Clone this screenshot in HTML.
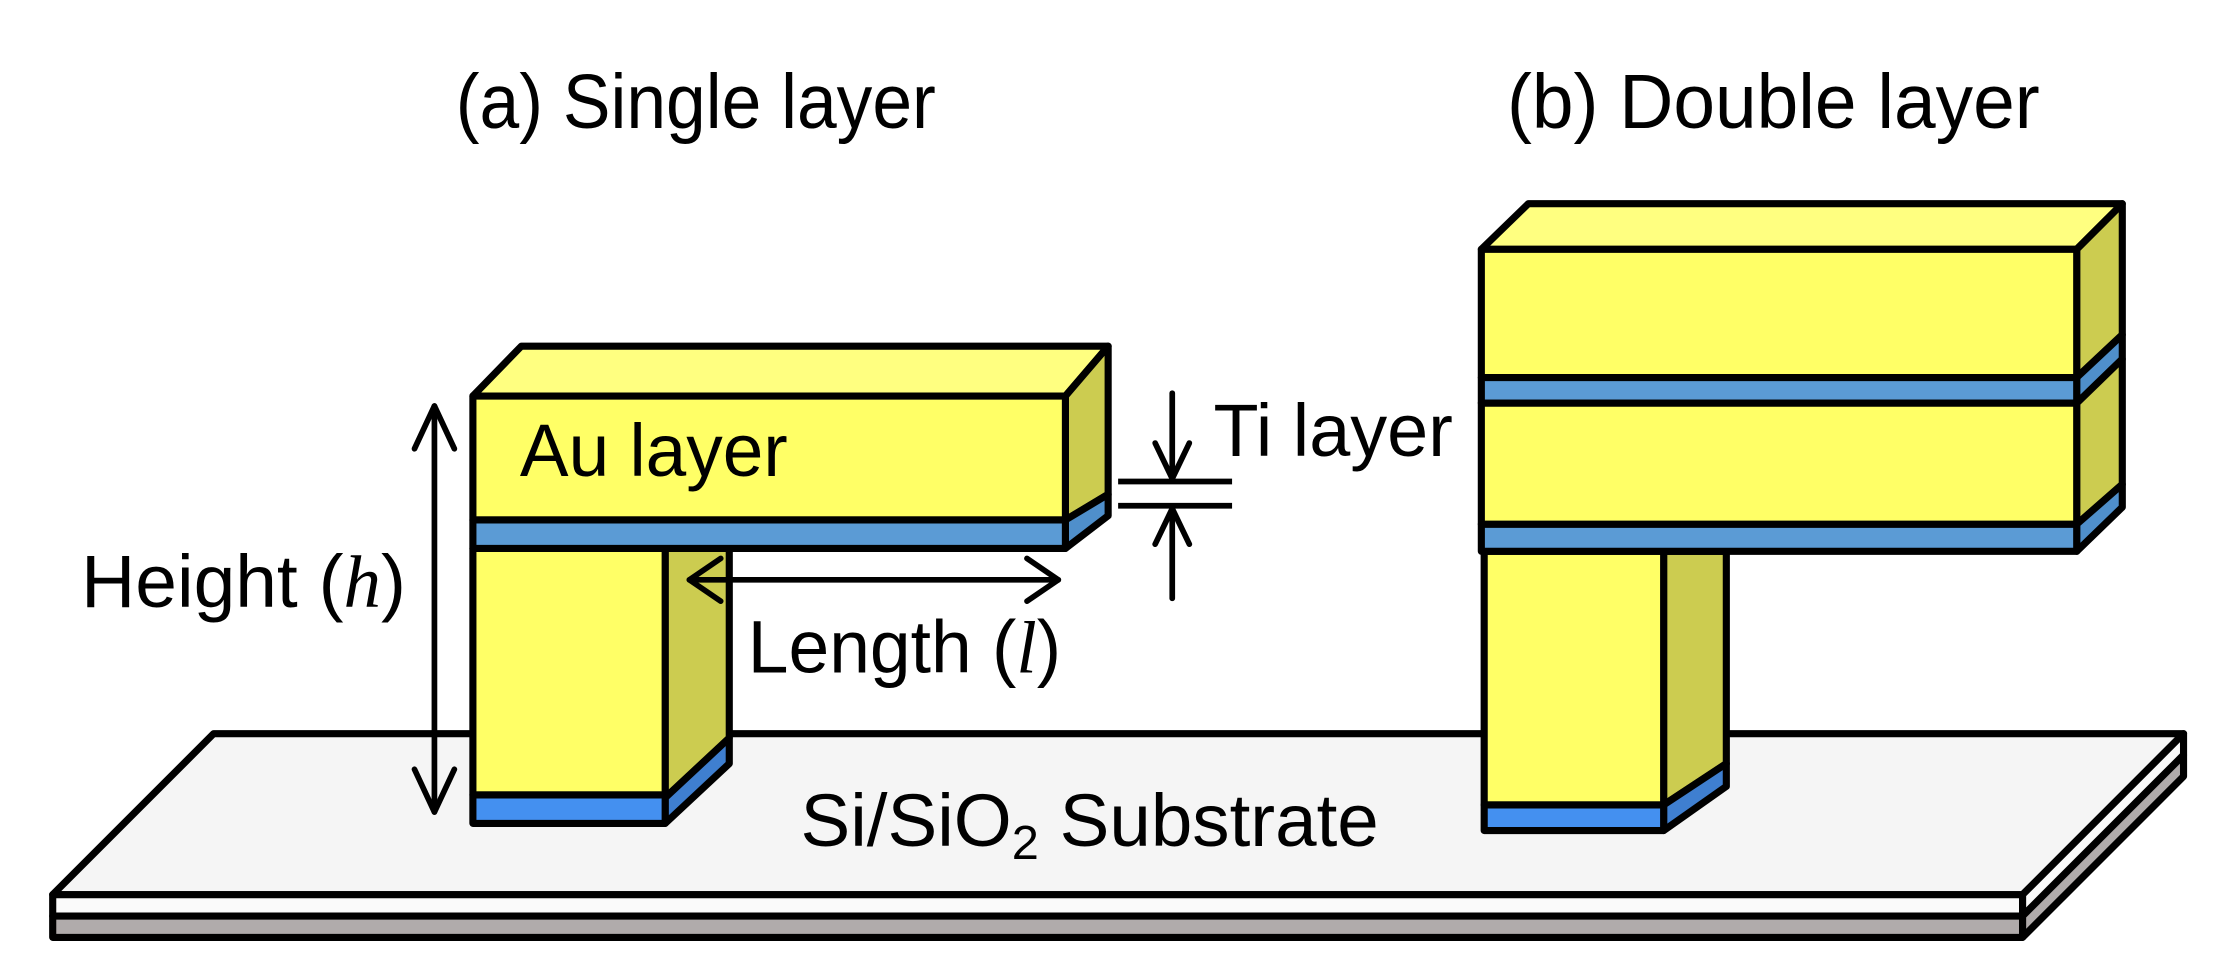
<!DOCTYPE html>
<html><head><meta charset="utf-8"><style>html,body{margin:0;padding:0;background:#fff}svg{display:block}</style></head>
<body>
<svg width="2222" height="973" viewBox="0 0 1560 683" preserveAspectRatio="none" xmlns="http://www.w3.org/2000/svg" font-family="Liberation Sans, sans-serif">
<g stroke="#000" stroke-width="5" stroke-linejoin="round">
<polygon points="150,515 1533,515 1420,628 37,628" fill="#F5F5F5"/>
<rect x="37" y="628" width="1383" height="15" fill="#FAFAFA"/>
<rect x="37" y="643" width="1383" height="15" fill="#B0ABAB"/>
<polygon points="1420,628 1533,515 1533,530 1420,643" fill="#FAFAFA"/>
<polygon points="1420,643 1533,530 1533,545 1420,658" fill="#B0ABAB"/>

<polygon points="467,385 512,385 512,518 467,560" fill="#CCCC50"/>
<polygon points="467,560 512,518 512,536 467,578" fill="#3F7FD0"/>
<rect x="332" y="385" width="135" height="173" fill="#FFFF66"/>
<rect x="332" y="558" width="135" height="20" fill="#4490F0"/>
<polygon points="332,278 366,243 778,243 748,278" fill="#FFFF80"/>
<polygon points="748,278 778,243 778,347 748,365" fill="#CCCC50"/>
<polygon points="748,365 778,347 778,362 748,385" fill="#4F8FCB"/>
<rect x="332" y="278" width="416" height="87" fill="#FFFF66"/>
<rect x="332" y="365" width="416" height="20" fill="#5B9BD5"/>

<polygon points="1168,387 1212,387 1212,536 1168,565" fill="#CCCC50"/>
<polygon points="1168,565 1212,536 1212,552 1168,583" fill="#3F7FD0"/>
<rect x="1042" y="387" width="126" height="178" fill="#FFFF66"/>
<rect x="1042" y="565" width="126" height="18" fill="#4490F0"/>
<polygon points="1040,175 1073,143 1490,143 1458,175" fill="#FFFF80"/>
<polygon points="1458,175 1490,143 1490,235 1458,265" fill="#CCCC50"/>
<polygon points="1458,265 1490,235 1490,252 1458,283" fill="#4F8FCB"/>
<polygon points="1458,283 1490,252 1490,340 1458,368" fill="#CCCC50"/>
<polygon points="1458,368 1490,340 1490,356 1458,387" fill="#4F8FCB"/>
<rect x="1040" y="175" width="418" height="90" fill="#FFFF66"/>
<rect x="1040" y="265" width="418" height="18" fill="#5B9BD5"/>
<rect x="1040" y="283" width="418" height="85" fill="#FFFF66"/>
<rect x="1040" y="368" width="418" height="19" fill="#5B9BD5"/>
</g>

<g stroke="#000" stroke-width="4" fill="none" stroke-linecap="round" stroke-linejoin="round">
<line x1="305" y1="285" x2="305" y2="570"/>
<polyline points="291,315 305,285 319,315"/>
<polyline points="291,540 305,570 319,540"/>
<line x1="484" y1="407" x2="743" y2="407"/>
<polyline points="506,392 484,407 506,422"/>
<polyline points="721,392 743,407 721,422"/>
<line x1="823" y1="276" x2="823" y2="336"/>
<polyline points="811,311 823,336 835,311"/>
<line x1="823" y1="357" x2="823" y2="420"/>
<polyline points="811,382 823,357 835,382"/>
<line x1="785" y1="338" x2="865" y2="338" stroke-linecap="butt"/>
<line x1="785" y1="355" x2="865" y2="355" stroke-linecap="butt"/>
</g>

<g fill="#000" font-size="52">
<text x="320" y="90" font-size="54" textLength="337" lengthAdjust="spacingAndGlyphs">(a) Single layer</text>
<text x="1058" y="90" font-size="54" textLength="374" lengthAdjust="spacingAndGlyphs">(b) Double layer</text>
<text x="365" y="334" textLength="188" lengthAdjust="spacingAndGlyphs">Au layer</text>
<text x="852" y="320" textLength="168" lengthAdjust="spacingAndGlyphs">Ti layer</text>
<text x="57" y="426" textLength="228" lengthAdjust="spacingAndGlyphs">Height (<tspan font-family="Liberation Serif, serif" font-style="italic">h</tspan>)</text>
<text x="525" y="472" textLength="220" lengthAdjust="spacingAndGlyphs">Length (<tspan font-family="Liberation Serif, serif" font-style="italic">l</tspan>)</text>
<text x="562" y="594" textLength="406" lengthAdjust="spacingAndGlyphs">Si/SiO<tspan font-size="34" dy="9">2</tspan><tspan dy="-9"> Substrate</tspan></text>
</g>
</svg>
</body></html>
